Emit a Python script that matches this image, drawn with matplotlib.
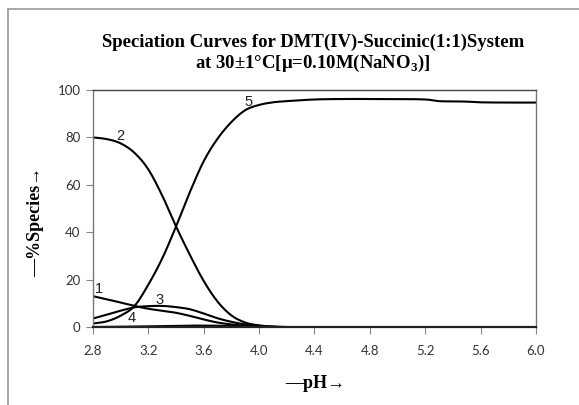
import matplotlib
matplotlib.use("Agg")
import numpy as np
import matplotlib.pyplot as plt
from matplotlib.lines import Line2D

plt.rcParams['mathtext.fontset'] = 'custom'
plt.rcParams['mathtext.rm'] = 'Liberation Serif:bold'
plt.rcParams['mathtext.bf'] = 'Liberation Serif:bold'

# pH grid and % species for each complex
ph = [2.8, 2.9, 3.0, 3.1, 3.2, 3.3, 3.4, 3.5, 3.6, 3.7, 3.8, 3.9, 4.0, 4.1, 4.2,
      4.4, 4.6, 4.8, 5.0, 5.2, 5.3, 5.4, 5.5, 5.6, 5.8, 6.0]
species_1 = [13.1, 11.8, 10.4, 9.0, 7.8, 7.0, 6.1, 4.8, 3.3, 2.0, 1.2, 0.6, 0.3, 0.1, 0.0,
             0, 0, 0, 0, 0, 0, 0, 0, 0, 0, 0]
species_2 = [80.0, 79.3, 77.5, 73.5, 66.5, 55.5, 42.5, 30.5, 19.5, 10.8, 5.0, 2.0, 0.8, 0.3, 0.1,
             0, 0, 0, 0, 0, 0, 0, 0, 0, 0, 0]
species_3 = [3.7, 5.3, 7.0, 8.4, 8.9, 9.0, 8.5, 7.6, 5.8, 3.8, 2.3, 1.2, 0.6, 0.25, 0.1,
             0, 0, 0, 0, 0, 0, 0, 0, 0, 0, 0]
species_4 = [0.1, 0.15, 0.2, 0.3, 0.4, 0.5, 0.6, 0.7, 0.7, 0.65, 0.6, 0.45, 0.3, 0.15, 0.05,
             0, 0, 0, 0, 0, 0, 0, 0, 0, 0, 0]
species_5 = [1.6, 2.5, 4.9, 9.0, 18.0, 29.0, 42.5, 57.0, 70.0, 79.5, 86.5, 91.5, 93.7, 94.8, 95.3,
             96.0, 96.2, 96.2, 96.2, 96.0, 95.3, 95.2, 95.1, 94.8, 94.7, 94.7]

curve_labels = ['1', '2', '3', '4', '5']
label_pos = [(2.84, 16.0), (3.00, 80.5), (3.28, 11.3), (3.08, 3.8), (3.92, 95.0)]


def smooth(x, y, n=16):
    # Excel-style smoothed line: Catmull-Rom bezier through the points
    x = np.asarray(x, float)
    y = np.asarray(y, float)
    p = np.column_stack([x, y])
    p = np.vstack([p[0], p, p[-1]])
    out = []
    t = np.linspace(0, 1, n, endpoint=False)[:, None]
    for i in range(1, len(p) - 2):
        p0, p1, p2, p3 = p[i - 1], p[i], p[i + 1], p[i + 2]
        c1 = p1 + (p2 - p0) / 6
        c2 = p2 - (p3 - p1) / 6
        seg = ((1 - t) ** 3) * p1 + 3 * ((1 - t) ** 2) * t * c1 + 3 * (1 - t) * t ** 2 * c2 + t ** 3 * p2
        out.append(seg)
    out.append(p[-2][None, :])
    out = np.vstack(out)
    return out[:, 0], out[:, 1]


fig = plt.figure(figsize=(5.79, 4.05), dpi=100)
ax = fig.add_axes([0.1606, 0.1919, 0.7651, 0.5859])

for ys in [species_1, species_2, species_3, species_4, species_5]:
    sx, sy = smooth(ph, ys)
    ax.plot(sx, sy, color='black', lw=1.5, solid_capstyle='round')

for lab, (x, y) in zip(curve_labels, label_pos):
    ax.text(x, y, lab, fontsize=10.5, family='Liberation Sans', ha='center', va='center',
            color='#222222')

ax.set_xlim(2.8, 6.0)
ax.set_ylim(0, 100)
ax.set_xticks([2.8, 3.2, 3.6, 4.0, 4.4, 4.8, 5.2, 5.6, 6.0])
ax.set_xticklabels(['2.8', '3.2', '3.6', '4.0', '4.4', '4.8', '5.2', '5.6', '6.0'])
ax.set_yticks([0, 20, 40, 60, 80, 100])
ax.tick_params(labelsize=9.5, length=5, width=0.8)
ax.tick_params(axis='x', color='#888888', pad=8)
ax.tick_params(axis='y', color='#888888', pad=4)
for t in ax.get_xticklabels() + ax.get_yticklabels():
    t.set_family('Lato')
    t.set_color('#333333')

for s in ['top', 'right', 'left']:
    ax.spines[s].set_color('#777777')
    ax.spines[s].set_linewidth(1.0)
ax.spines['top'].set_color('#444444')
ax.spines['bottom'].set_color('#222222')
ax.spines['bottom'].set_linewidth(1.6)

serif = ['Liberation Serif', 'DejaVu Serif']
fig.text(0.541, 0.895, 'Speciation Curves for DMT(IV)-Succinic(1:1)System',
         ha='center', va='center', fontsize=13.5, fontweight='bold', family=serif)
fig.text(0.541, 0.843, 'at 30\u00b11\u00b0C[\u03bc=0.10M(NaNO$_{3}$)]',
         ha='center', va='center', fontsize=13.5, fontweight='bold', family=serif)

fig.text(315 / 579, 1 - 383 / 405, '\u2014pH\u2192', ha='center', va='center',
         fontsize=13, fontweight='bold', family=serif)
fig.text(36 / 579, 1 - 222 / 405, '\u2014%Species\u2192', ha='center', va='center',
         rotation=90, fontsize=13, fontweight='bold', family=serif)

# page border lines
fig.add_artist(Line2D([8 / 579, 1], [1 - 9 / 405, 1 - 9 / 405], color='#999999', lw=1.2))
fig.add_artist(Line2D([8 / 579, 8 / 579], [0, 1 - 9 / 405], color='#999999', lw=1.2))

fig.savefig('out.png', dpi=100)
